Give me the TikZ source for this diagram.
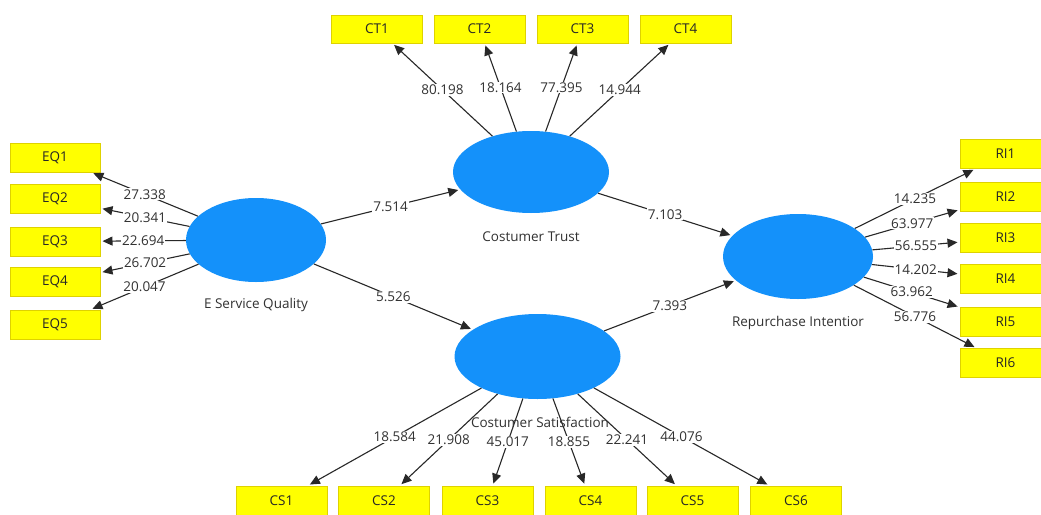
\documentclass[tikz,border=0pt]{standalone}
\usepackage{fontspec}
\setmainfont{Open Sans}
\usetikzlibrary{shapes.geometric,arrows.meta}
\definecolor{latent}{RGB}{20,145,250}
\definecolor{indfill}{RGB}{255,255,0}
\definecolor{inddraw}{RGB}{222,210,0}
\definecolor{txt}{RGB}{50,50,50}
\definecolor{linec}{RGB}{40,40,40}
\tikzset{
  ind/.style={rectangle, fill=indfill, draw=inddraw, line width=1pt, minimum width=91pt, minimum height=29pt, inner sep=0pt, text=black!85, font=\fontsize{13.5}{15}\selectfont},
  lat/.style={ellipse, fill=latent, draw=none, inner sep=0pt},
  link/.style={draw=linec, line width=1.1pt, -{Triangle[length=10pt,width=9pt]}, shorten >=2pt},
  lbl/.style={midway, fill=white, inner sep=1pt, text=txt, font=\fontsize{13.5}{15}\selectfont},
  latlbl/.style={text=txt, font=\fontsize{13.5}{15}\selectfont}
}
\begin{document}
\begin{tikzpicture}[x=1pt,y=-1pt]
\useasboundingbox (0,0) rectangle (1041,514);
\clip (0,0) rectangle (1041,514);
\fill[white] (0,0) rectangle (1041,514);
% latent variables
\node[lat, minimum width=140pt, minimum height=84pt] (esq) at (256,240) {};
\node[lat, minimum width=156pt, minimum height=82pt] (ctr) at (531,172) {};
\node[lat, minimum width=150pt, minimum height=85pt] (rin) at (798,256.5) {};
\node[lat, minimum width=166pt, minimum height=85pt] (csa) at (537.5,356.5) {};
% indicators
\node[ind, minimum width=90pt] (eq1) at (55,157.5) {EQ1};
\node[ind, minimum width=90pt] (eq2) at (55,199) {EQ2};
\node[ind, minimum width=90pt] (eq3) at (55,241.5) {EQ3};
\node[ind, minimum width=90pt] (eq4) at (55,282) {EQ4};
\node[ind, minimum width=90pt] (eq5) at (55,324.5) {EQ5};
\node[ind, minimum height=28pt] (ct1) at (377,29) {CT1};
\node[ind, minimum height=28pt] (ct2) at (479.5,29) {CT2};
\node[ind, minimum height=28pt] (ct3) at (582.5,29) {CT3};
\node[ind, minimum height=28pt] (ct4) at (685.5,29) {CT4};
\node[ind] (ri1) at (1005.5,154) {RI1};
\node[ind] (ri2) at (1005.5,196.5) {RI2};
\node[ind] (ri3) at (1005.5,238) {RI3};
\node[ind] (ri4) at (1005.5,279) {RI4};
\node[ind] (ri5) at (1005.5,321.5) {RI5};
\node[ind] (ri6) at (1005.5,363) {RI6};
\node[ind] (cs1) at (281.5,500.5) {CS1};
\node[ind] (cs2) at (384,500.5) {CS2};
\node[ind] (cs3) at (487.5,500.5) {CS3};
\node[ind] (cs4) at (590.5,500.5) {CS4};
\node[ind] (cs5) at (692.5,500.5) {CS5};
\node[ind] (cs6) at (796,500.5) {CS6};
% outer loadings
\draw[link] (esq) -- node[lbl]{27.338} (eq1);
\draw[link] (esq) -- node[lbl]{20.341} (eq2);
\draw[link] (esq) -- node[lbl]{22.694} (eq3);
\draw[link] (esq) -- node[lbl]{26.702} (eq4);
\draw[link] (esq) -- node[lbl]{20.047} (eq5);
\draw[link] (ctr) -- node[lbl]{80.198} (ct1);
\draw[link] (ctr) -- node[lbl]{18.164} (ct2);
\draw[link] (ctr) -- node[lbl]{77.395} (ct3);
\draw[link] (ctr) -- node[lbl]{14.944} (ct4);
\draw[link] (rin) -- node[lbl]{14.235} (ri1);
\draw[link] (rin) -- node[lbl]{63.977} (ri2);
\draw[link] (rin) -- node[lbl]{56.555} (ri3);
\draw[link] (rin) -- node[lbl]{14.202} (ri4);
\draw[link] (rin) -- node[lbl]{63.962} (ri5);
\draw[link] (rin) -- node[lbl]{56.776} (ri6);
\draw[link] (csa) -- node[lbl]{18.584} (cs1);
\draw[link] (csa) -- node[lbl]{21.908} (cs2);
\draw[link] (csa) -- node[lbl]{45.017} (cs3);
\draw[link] (csa) -- node[lbl]{18.855} (cs4);
\draw[link] (csa) -- node[lbl]{22.241} (cs5);
\draw[link] (csa) -- node[lbl]{44.076} (cs6);
% structural paths
\draw[link] (esq) -- node[lbl]{7.514} (ctr);
\draw[link] (esq) -- node[lbl]{5.526} (csa);
\draw[link] (ctr) -- node[lbl]{7.103} (rin);
\draw[link] (csa) -- node[lbl]{7.393} (rin);
% latent labels
\node[latlbl] (esqlab) at (256,305) {E Service Quality};
\node[latlbl] (ctrlab) at (531,237) {Costumer Trust};
\node[latlbl] (rinlab) at (798,323) {Repurchase Intentior};
\node[latlbl] (csalab) at (540,422) {Costumer Satisfaction};
\end{tikzpicture}
\end{document}
